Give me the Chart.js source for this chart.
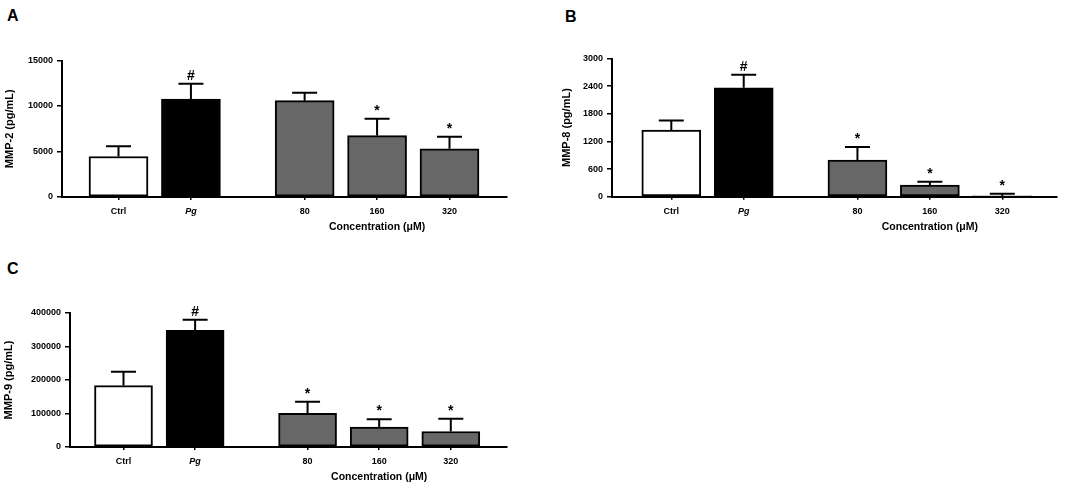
<!DOCTYPE html>
<html>
<head>
<meta charset="utf-8">
<script src="https://cdn.jsdelivr.net/npm/chart.js@4.4.0/dist/chart.umd.min.js"></script>
<style>
  body { margin: 0; background: #fff; width: 1084px; height: 486px; position: relative; overflow: hidden; font-family: "Liberation Sans", Arial, sans-serif; }
  .panel { position: absolute; }
  .tag { position: absolute; font-weight: bold; font-size: 16px; line-height: 16px; color: #000; }
</style>
</head>
<body>
<div class="tag" style="left:7px;top:8px">A</div>
<div class="tag" style="left:565px;top:9px">B</div>
<div class="tag" style="left:7px;top:261px">C</div>
<div class="panel" style="left:0;top:0"><canvas id="chartA" width="540" height="240"></canvas></div>
<div class="panel" style="left:540px;top:0"><canvas id="chartB" width="544" height="240"></canvas></div>
<div class="panel" style="left:0;top:250px"><canvas id="chartC" width="540" height="236"></canvas></div>
<script>
// groups on the x axis
var groups = ['Ctrl', 'Pg', '80', '160', '320'];

// MMP-2 (pg/mL)
var mmp2Mean = [4450, 10760, 10590, 6750, 5290];
var mmp2Sd = [1130, 1690, 870, 1860, 1320];
var mmp2Marks = ['', '#', '', '*', '*'];
var mmp2Ticks = [0, 5000, 10000, 15000];

// MMP-8 (pg/mL)
var mmp8Mean = [1446, 2363, 795, 254, 15];
var mmp8Sd = [210, 282, 282, 71, 50];
var mmp8Marks = ['', '#', '*', '*', '*'];
var mmp8Ticks = [0, 600, 1200, 1800, 2400, 3000];

// MMP-9 (pg/mL)
var mmp9Mean = [183300, 348000, 100500, 59100, 46400];
var mmp9Sd = [41400, 31600, 34600, 23700, 37600];
var mmp9Marks = ['', '#', '*', '*', '*'];
var mmp9Ticks = [0, 100000, 200000, 300000, 400000];

Chart.defaults.font.family = '"Liberation Sans", Arial, sans-serif';
Chart.defaults.color = '#000';

// bars sit on a linear axis so the treated group can be pushed right
var slot = [0, 1, 2.57, 3.57, 4.57];

var errBars = {
  id: 'errbars',
  afterDatasetsDraw: function(chart, args, o) {
    var c = chart.ctx;
    var ys = chart.scales.y, xs = chart.scales.x;
    var pts = chart.data.datasets[0].data;
    var meta = chart.getDatasetMeta(0);
    c.save();
    c.strokeStyle = '#000';
    c.fillStyle = '#000';
    c.lineWidth = 2;
    meta.data.forEach(function(bar, i) {
      var top = ys.getPixelForValue(pts[i].y + o.sd[i]);
      c.beginPath();
      c.moveTo(bar.x, bar.y);
      c.lineTo(bar.x, top);
      c.moveTo(bar.x - o.cap / 2, top);
      c.lineTo(bar.x + o.cap / 2, top);
      c.stroke();
      if (o.marks[i]) {
        c.font = 'bold 14px "Liberation Sans", Arial, sans-serif';
        c.textAlign = 'center';
        c.textBaseline = 'alphabetic';
        c.fillText(o.marks[i], bar.x, top - 4);
      }
    });
    c.font = 'bold 10.5px "Liberation Sans", Arial, sans-serif';
    c.textAlign = 'center';
    c.textBaseline = 'middle';
    c.fillText('Concentration (\u03bcM)', xs.getPixelForValue(slot[3]), chart.chartArea.bottom + 30);
    c.restore();
  }
};

function makePanel(id, box, title, means, sds, marks, ticks) {
  var fills = ['#ffffff', '#000000', '#676767', '#676767', '#676767'];
  var canvas = document.getElementById(id);
  var W = canvas.width, H = canvas.height;
  var unit = (box.c4 - box.c0) / slot[4];
  var xmin = -(box.c0 - box.left) / unit;
  var xmax = (box.right - box.c0) / unit;

  return new Chart(canvas.getContext('2d'), {
    type: 'bar',
    data: {
      datasets: [{
        data: means.map(function(v, i) { return { x: slot[i], y: v }; }),
        backgroundColor: fills,
        borderColor: '#000',
        borderWidth: 2,
        borderSkipped: false,
        barThickness: box.bar
      }]
    },
    options: {
      responsive: false,
      animation: false,
      events: [],
      layout: { padding: { left: 0, right: W - box.right, top: box.top, bottom: 0 } },
      plugins: {
        legend: { display: false },
        tooltip: { enabled: false },
        errbars: { sd: sds, marks: marks, cap: 25 }
      },
      scales: {
        x: {
          type: 'linear',
          min: xmin,
          max: xmax,
          offset: false,
          afterBuildTicks: function(s) { s.ticks = slot.map(function(v) { return { value: v }; }); },
          afterFit: function(s) { s.height = H - box.bottom; },
          grid: { display: true, drawOnChartArea: false, drawTicks: true, tickLength: 3, color: '#000', lineWidth: 1.5, offset: false },
          border: { color: '#000', width: 2 },
          ticks: {
            autoSkip: false,
            maxRotation: 0,
            padding: 6,
            color: '#000',
            callback: function(v, i) { return groups[i]; },
            font: function(ctx) {
              return { size: 9, weight: 'bold', style: ctx.index === 1 ? 'italic' : 'normal' };
            }
          }
        },
        y: {
          min: 0,
          max: ticks[ticks.length - 1],
          afterBuildTicks: function(s) { s.ticks = ticks.map(function(v) { return { value: v }; }); },
          afterFit: function(s) { s.width = box.left; },
          grid: { drawOnChartArea: false, drawTicks: true, tickLength: 5, color: '#000', lineWidth: 1.5 },
          border: { color: '#000', width: 2 },
          ticks: {
            padding: 4,
            color: '#000',
            font: { size: 9, weight: 'bold' },
            callback: function(v) { return String(v); }
          },
          title: {
            display: true,
            text: title,
            color: '#000',
            font: { size: 11, weight: 'bold' },
            padding: { top: box.tp, bottom: 0 }
          }
        }
      }
    },
    plugins: [errBars]
  });
}

makePanel('chartA', { left: 62, right: 507, top: 60.5, bottom: 197, c0: 118.5, c4: 449.5, bar: 59, tp: 3 },
  'MMP-2 (pg/mL)', mmp2Mean, mmp2Sd, mmp2Marks, mmp2Ticks);
makePanel('chartB', { left: 72, right: 517, top: 58.5, bottom: 196.7, c0: 131.3, c4: 462.3, bar: 59, tp: 20 },
  'MMP-8 (pg/mL)', mmp8Mean, mmp8Sd, mmp8Marks, mmp8Ticks);
makePanel('chartC', { left: 70, right: 507, top: 63, bottom: 197, c0: 123.5, c4: 450.8, bar: 58, tp: 2 },
  'MMP-9 (pg/mL)', mmp9Mean, mmp9Sd, mmp9Marks, mmp9Ticks);
</script>
</body>
</html>
